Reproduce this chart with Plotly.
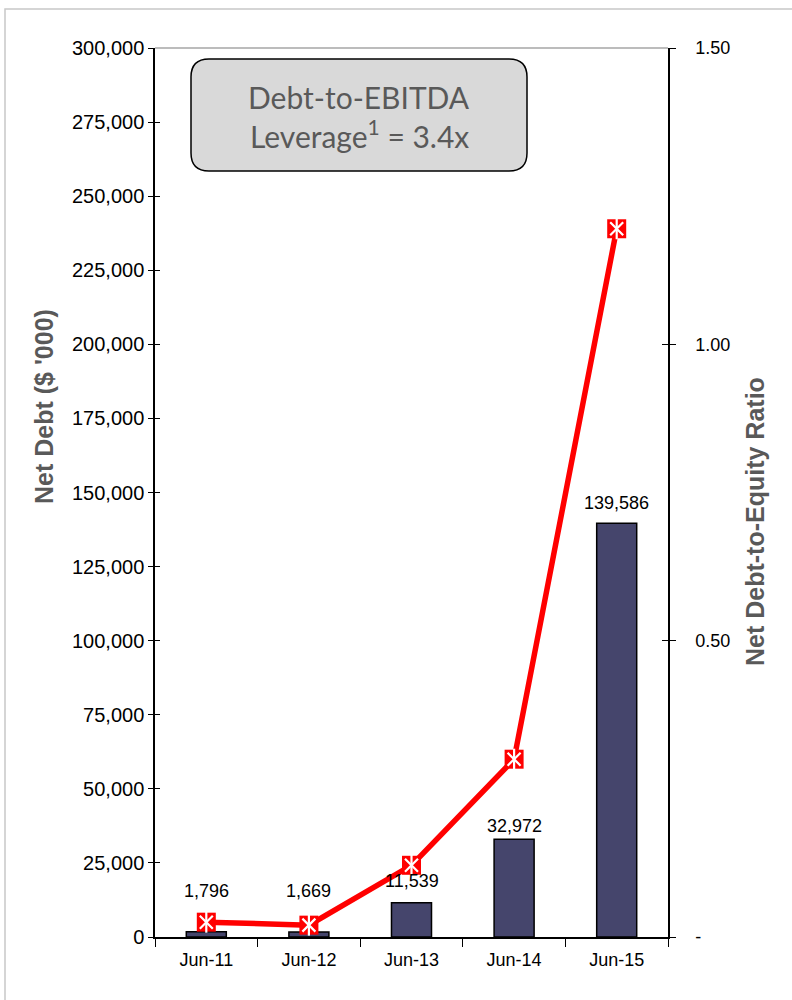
import plotly.graph_objects as go

categories = ["Jun-11", "Jun-12", "Jun-13", "Jun-14", "Jun-15"]
net_debt = [1796, 1669, 11539, 32972, 139586]
debt_to_equity = [0.025, 0.020, 0.121, 0.300, 1.195]
left_ticks = list(range(0, 300001, 25000))
right_tickvals = [0, 0.5, 1.0, 1.5]
right_ticktext = ["-", "0.50", "1.00", "1.50"]
label_shift = [41, 41, 22, 13, 20]

W, H = 792, 1000
L, R, T, B = 155, 124, 48, 63
pw, ph = W - L - R, H - T - B

def px_x(p):
    return (p - L) / pw

def px_y(p):
    return (H - B - p) / ph

FONT = "Liberation Sans, Arial, sans-serif"

fig = go.Figure()

fig.add_trace(go.Bar(
    x=categories, y=net_debt, width=0.39,
    marker=dict(color="#45456c", line=dict(color="#000000", width=1.5)),
    yaxis="y", showlegend=False, hoverinfo="skip",
))

fig.add_trace(go.Scatter(
    x=categories, y=debt_to_equity, yaxis="y2", mode="lines+markers",
    line=dict(color="#ff0000", width=5.5),
    marker=dict(symbol="square", size=19, color="#ff0000", line=dict(width=0)),
    showlegend=False, hoverinfo="skip",
))
fig.add_trace(go.Scatter(
    x=categories, y=debt_to_equity, yaxis="y2", mode="markers",
    marker=dict(symbol="x-thin-open", size=13, color="#ffffff",
                line=dict(color="#ffffff", width=2.2)),
    showlegend=False, hoverinfo="skip",
))
fig.add_trace(go.Scatter(
    x=categories, y=debt_to_equity, yaxis="y2", mode="markers",
    marker=dict(symbol="line-ns-open", size=15, color="#ffffff",
                line=dict(color="#ffffff", width=2.2)),
    showlegend=False, hoverinfo="skip",
))

for c, v, s in zip(categories, net_debt, label_shift):
    fig.add_annotation(
        x=c, y=v, xref="x", yref="y", text=f"{v:,}", showarrow=False,
        yanchor="middle", yshift=s,
        font=dict(family=FONT, size=18, color="#000000"),
    )

# Rounded box with leverage text
x0, x1, y0, y1 = px_x(191), px_x(527), px_y(171), px_y(59)
rx = 18 / pw
ry = 18 / ph
path = (f"M {x0+rx},{y0} L {x1-rx},{y0} Q {x1},{y0} {x1},{y0+ry} "
        f"L {x1},{y1-ry} Q {x1},{y1} {x1-rx},{y1} L {x0+rx},{y1} "
        f"Q {x0},{y1} {x0},{y1-ry} L {x0},{y0+ry} Q {x0},{y0} {x0+rx},{y0} Z")
fig.add_shape(type="path", path=path, xref="paper", yref="paper",
              fillcolor="#d9d9d9", line=dict(color="#000000", width=1.5))
box_font = dict(family="Lato, Open Sans, sans-serif", size=30, color="#595959")
fig.add_annotation(x=(x0 + x1) / 2, y=px_y(97), xref="paper", yref="paper",
                   text="Debt-to-EBITDA", showarrow=False, yanchor="middle",
                   font=box_font)
fig.add_annotation(x=(x0 + x1) / 2, y=px_y(134), xref="paper", yref="paper",
                   text="Leverage<sup>1</sup> = 3.4x", showarrow=False,
                   yanchor="middle", font=box_font)

# axis titles as rotated annotations
fig.add_annotation(x=px_x(44), y=px_y(407), xref="paper", yref="paper",
                   text="<b>Net Debt ($ '000)</b>", showarrow=False, textangle=-90,
                   xanchor="center", yanchor="middle",
                   font=dict(family=FONT, size=25, color="#595959"))
fig.add_annotation(x=px_x(755), y=px_y(522), xref="paper", yref="paper",
                   text="<b>Net Debt-to-Equity Ratio</b>", showarrow=False,
                   textangle=-90, xanchor="center", yanchor="middle",
                   font=dict(family=FONT, size=25, color="#595959"))

# plot area top border (grey)
fig.add_shape(type="line", xref="paper", yref="paper", x0=0, x1=1, y0=1, y1=1,
              line=dict(color="#a6a6a6", width=1.5))
# outer frame
fig.add_shape(type="rect", xref="paper", yref="paper",
              x0=px_x(5), x1=px_x(800), y0=px_y(1010), y1=px_y(9),
              line=dict(color="#c8c8c8", width=1.5), fillcolor="rgba(0,0,0,0)")

fig.update_layout(
    width=W, height=H,
    margin=dict(l=L, r=R, t=T, b=B),
    paper_bgcolor="#ffffff", plot_bgcolor="#ffffff",
    xaxis=dict(
        type="category", categoryorder="array", categoryarray=categories,
        showline=True, linecolor="#000000", linewidth=1.5,
        ticks="outside", tickson="boundaries", ticklen=8, tickcolor="#000000",
        ticklabelstandoff=6,
        tickfont=dict(family=FONT, size=18, color="#000000"),
        showgrid=False, zeroline=False,
    ),
    yaxis=dict(
        range=[0, 300000], tickvals=left_ticks, tickformat=",",
        showline=True, linecolor="#000000", linewidth=1.5,
        ticks="outside", ticklen=5, tickcolor="#000000", tickwidth=1.2,
        tickfont=dict(family=FONT, size=20, color="#000000"),
        showgrid=False, zeroline=False,
    ),
    yaxis2=dict(
        range=[0, 1.5], overlaying="y", side="right",
        tickvals=right_tickvals, ticktext=right_ticktext,
        showline=True, linecolor="#000000", linewidth=1.5,
        ticks="outside", ticklen=6, tickcolor="#000000", tickwidth=1.2,
        ticklabelstandoff=16,
        tickfont=dict(family=FONT, size=18, color="#000000"),
        showgrid=False, zeroline=False,
    ),
    yaxis3=dict(
        range=[0, 300000], overlaying="y", side="left", tickvals=left_ticks,
        showticklabels=False, ticks="inside", ticklen=5, tickcolor="#000000",
        tickwidth=1.2, showgrid=False, zeroline=False, showline=False,
    ),
    yaxis4=dict(
        range=[0, 1.5], overlaying="y", side="right", tickvals=right_tickvals,
        showticklabels=False, ticks="inside", ticklen=6, tickcolor="#000000",
        tickwidth=1.2, showgrid=False, zeroline=False, showline=False,
    ),
)

# invisible traces to activate the overlay tick axes
fig.add_trace(go.Scatter(x=[categories[0]], y=[0], yaxis="y3", mode="markers",
                         marker=dict(opacity=0), showlegend=False, hoverinfo="skip"))
fig.add_trace(go.Scatter(x=[categories[0]], y=[0], yaxis="y4", mode="markers",
                         marker=dict(opacity=0), showlegend=False, hoverinfo="skip"))

fig.write_html("out.html")
